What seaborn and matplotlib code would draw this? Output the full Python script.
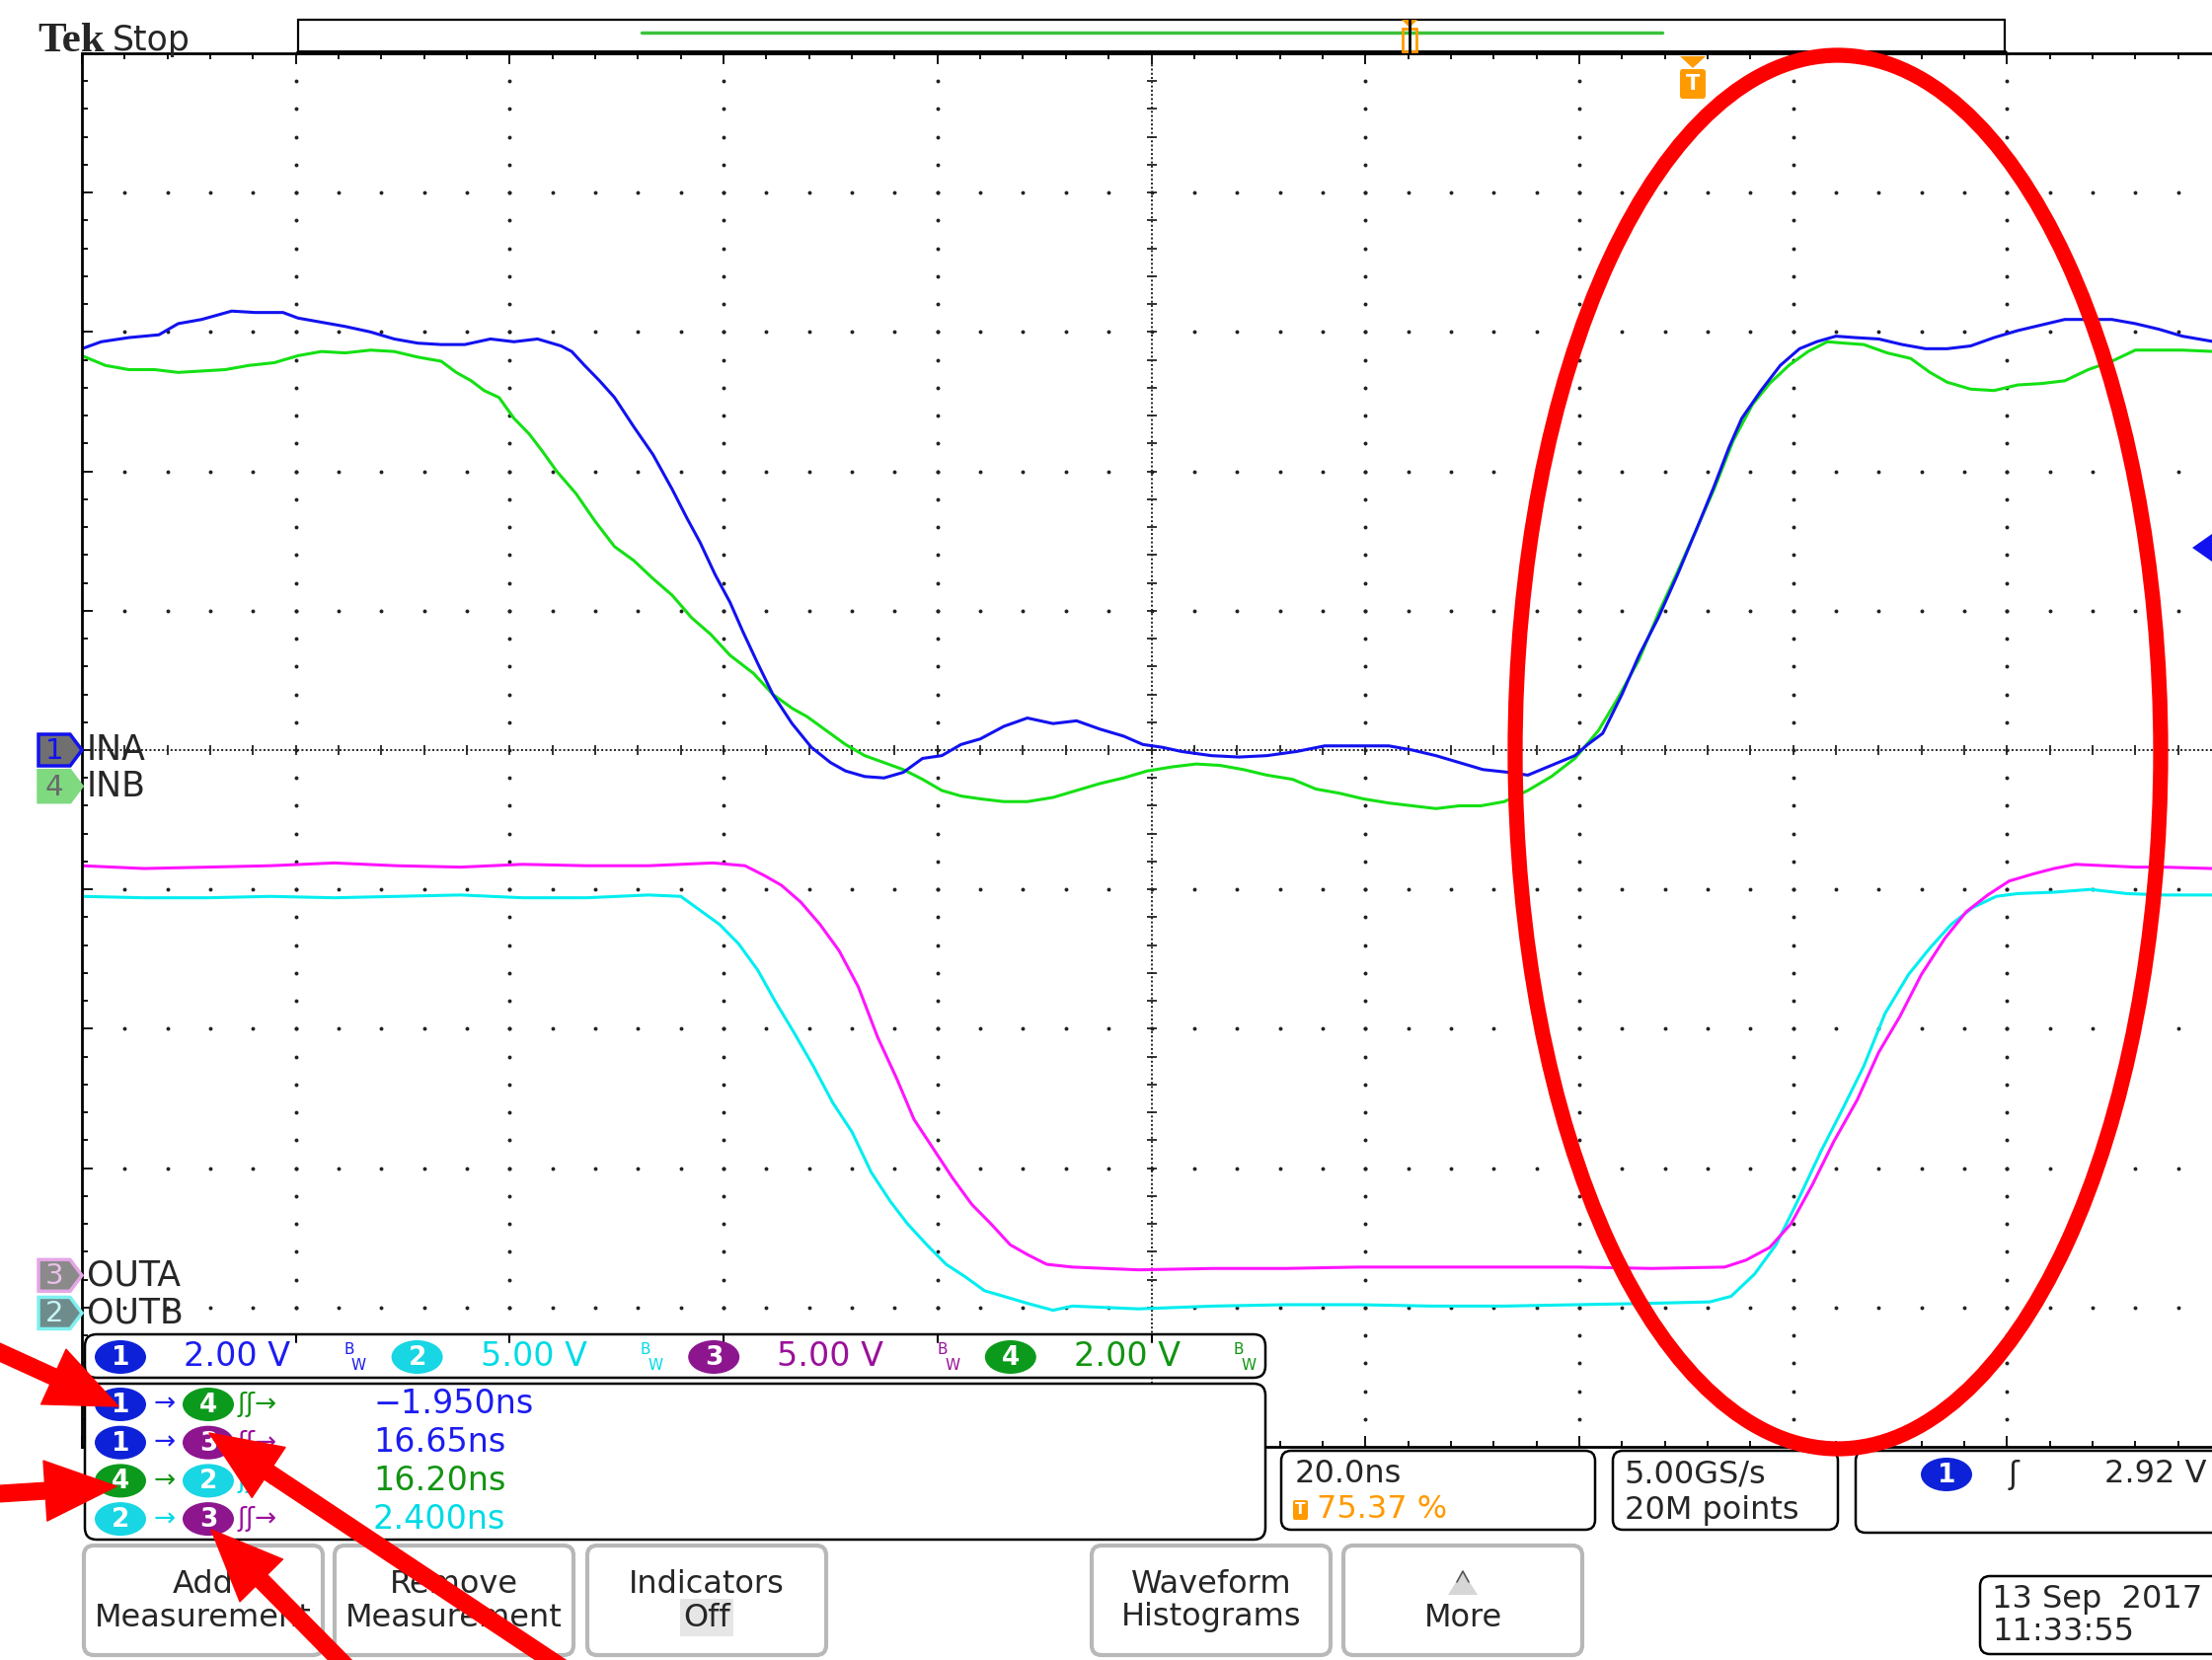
import matplotlib
matplotlib.use("Agg")
import matplotlib.pyplot as plt
import numpy as np
import pandas as pd
import seaborn as sns
from matplotlib.patches import (ArrowStyle, Ellipse, FancyArrowPatch,
                                FancyBboxPatch, Polygon, Rectangle)

W, H = 2241, 1682

# traces: (time in divisions, 20 ns/div ; level in divisions from centre)
ina = [(0.00, 2.88), (0.09, 2.93), (0.22, 2.96), (0.36, 2.98), (0.45, 3.06), (0.56, 3.09),
       (0.70, 3.15), (0.81, 3.14), (0.94, 3.14), (1.01, 3.10), (1.12, 3.07), (1.23, 3.04),
       (1.35, 3.00), (1.46, 2.95), (1.57, 2.92), (1.68, 2.91), (1.79, 2.91), (1.91, 2.95),
       (2.02, 2.93), (2.13, 2.95), (2.24, 2.90), (2.29, 2.86), (2.35, 2.76), (2.42, 2.65),
       (2.49, 2.53), (2.58, 2.32), (2.67, 2.12), (2.76, 1.87), (2.83, 1.66), (2.89, 1.49),
       (2.96, 1.26), (3.03, 1.06), (3.09, 0.85), (3.16, 0.62), (3.23, 0.40), (3.32, 0.19),
       (3.41, 0.02), (3.50, -0.09), (3.57, -0.15), (3.66, -0.19), (3.75, -0.20), (3.84, -0.16),
       (3.93, -0.06), (4.02, -0.04), (4.11, 0.04), (4.20, 0.08), (4.31, 0.17), (4.42, 0.23),
       (4.54, 0.19), (4.65, 0.21), (4.76, 0.15), (4.87, 0.10), (4.96, 0.04), (5.05, 0.02),
       (5.14, -0.01), (5.28, -0.04), (5.41, -0.05), (5.54, -0.04), (5.68, -0.01), (5.81, 0.03),
       (5.95, 0.03), (6.11, 0.03), (6.22, 0.00), (6.33, -0.04), (6.44, -0.09), (6.55, -0.14),
       (6.67, -0.16), (6.76, -0.18), (6.87, -0.11), (6.98, -0.04), (7.04, 0.04), (7.11, 0.12),
       (7.20, 0.40), (7.28, 0.68), (7.37, 0.95), (7.46, 1.26), (7.55, 1.59), (7.63, 1.89),
       (7.70, 2.17), (7.76, 2.38), (7.85, 2.58), (7.94, 2.76), (8.03, 2.88), (8.11, 2.93),
       (8.20, 2.97), (8.29, 2.96), (8.40, 2.95), (8.51, 2.91), (8.62, 2.88), (8.72, 2.88),
       (8.83, 2.90), (8.94, 2.96), (9.05, 3.01), (9.16, 3.05), (9.27, 3.09), (9.38, 3.09),
       (9.49, 3.09), (9.60, 3.06), (9.71, 3.02), (9.82, 2.97), (9.97, 2.93), (10.0, 2.93)]

inb = [(0.00, 2.83), (0.11, 2.76), (0.22, 2.73), (0.34, 2.73), (0.45, 2.71), (0.56, 2.72),
       (0.67, 2.73), (0.78, 2.76), (0.90, 2.78), (1.01, 2.83), (1.12, 2.86), (1.23, 2.85),
       (1.35, 2.87), (1.46, 2.86), (1.57, 2.82), (1.68, 2.79), (1.75, 2.71), (1.82, 2.65),
       (1.88, 2.58), (1.95, 2.53), (2.02, 2.38), (2.09, 2.27), (2.15, 2.15), (2.22, 2.00),
       (2.31, 1.84), (2.40, 1.64), (2.49, 1.46), (2.58, 1.36), (2.67, 1.23), (2.76, 1.11),
       (2.85, 0.95), (2.94, 0.83), (3.03, 0.68), (3.14, 0.55), (3.23, 0.40), (3.32, 0.30),
       (3.39, 0.24), (3.48, 0.14), (3.57, 0.04), (3.66, -0.04), (3.75, -0.09), (3.84, -0.14),
       (3.93, -0.21), (4.02, -0.29), (4.11, -0.33), (4.20, -0.35), (4.31, -0.37), (4.42, -0.37),
       (4.54, -0.34), (4.65, -0.29), (4.76, -0.24), (4.87, -0.20), (4.98, -0.15), (5.10, -0.12),
       (5.21, -0.10), (5.32, -0.11), (5.43, -0.14), (5.54, -0.18), (5.66, -0.21), (5.77, -0.28),
       (5.88, -0.31), (5.99, -0.35), (6.11, -0.38), (6.22, -0.40), (6.33, -0.42), (6.44, -0.40),
       (6.54, -0.40), (6.65, -0.37), (6.76, -0.29), (6.87, -0.19), (6.98, -0.06), (7.09, 0.14),
       (7.18, 0.37), (7.28, 0.65), (7.37, 0.98), (7.46, 1.28), (7.55, 1.59), (7.63, 1.87),
       (7.72, 2.22), (7.81, 2.48), (7.89, 2.63), (7.98, 2.76), (8.07, 2.86), (8.16, 2.93),
       (8.24, 2.92), (8.33, 2.91), (8.44, 2.85), (8.55, 2.81), (8.64, 2.71), (8.72, 2.64),
       (8.83, 2.59), (8.94, 2.58), (9.05, 2.62), (9.16, 2.63), (9.27, 2.65), (9.38, 2.73),
       (9.49, 2.79), (9.60, 2.87), (9.71, 2.87), (9.82, 2.87), (9.97, 2.86), (10.0, 2.86)]

outa = [(0.00, -0.83), (0.29, -0.85), (0.59, -0.84), (0.88, -0.83), (1.18, -0.81), (1.47, -0.83),
        (1.77, -0.84), (2.06, -0.82), (2.36, -0.83), (2.65, -0.83), (2.95, -0.81), (3.10, -0.83),
        (3.19, -0.90), (3.27, -0.97), (3.36, -1.09), (3.45, -1.25), (3.54, -1.44), (3.63, -1.70),
        (3.72, -2.06), (3.81, -2.36), (3.89, -2.65), (3.98, -2.86), (4.07, -3.07), (4.16, -3.26),
        (4.25, -3.40), (4.34, -3.55), (4.42, -3.62), (4.51, -3.69), (4.63, -3.71), (4.94, -3.73),
        (5.29, -3.72), (5.63, -3.72), (5.97, -3.71), (6.31, -3.71), (6.65, -3.71), (6.99, -3.71),
        (7.34, -3.72), (7.68, -3.71), (7.78, -3.66), (7.89, -3.57), (7.99, -3.40), (8.09, -3.12),
        (8.19, -2.81), (8.30, -2.51), (8.40, -2.17), (8.50, -1.91), (8.60, -1.61), (8.71, -1.35),
        (8.81, -1.16), (8.91, -1.04), (9.01, -0.94), (9.12, -0.89), (9.22, -0.85), (9.32, -0.82),
        (9.46, -0.83), (9.60, -0.84), (9.73, -0.84), (9.96, -0.85), (10.0, -0.85)]

outb = [(0.00, -1.05), (0.29, -1.06), (0.59, -1.06), (0.88, -1.05), (1.18, -1.06), (1.47, -1.05),
        (1.77, -1.04), (2.06, -1.06), (2.36, -1.06), (2.65, -1.04), (2.80, -1.05), (2.89, -1.15),
        (2.98, -1.25), (3.07, -1.39), (3.16, -1.58), (3.24, -1.80), (3.33, -2.03), (3.42, -2.27),
        (3.51, -2.53), (3.60, -2.74), (3.69, -3.03), (3.78, -3.24), (3.86, -3.40), (3.95, -3.55),
        (4.04, -3.69), (4.13, -3.78), (4.22, -3.88), (4.31, -3.92), (4.42, -3.97), (4.54, -4.02),
        (4.63, -3.99), (4.94, -4.01), (5.29, -3.99), (5.63, -3.98), (5.97, -3.98), (6.31, -3.99),
        (6.65, -3.99), (6.99, -3.98), (7.34, -3.97), (7.61, -3.96), (7.71, -3.92), (7.82, -3.76),
        (7.92, -3.55), (8.02, -3.24), (8.13, -2.88), (8.23, -2.58), (8.33, -2.27), (8.43, -1.89),
        (8.54, -1.61), (8.64, -1.42), (8.74, -1.25), (8.84, -1.13), (8.95, -1.05), (9.05, -1.03),
        (9.22, -1.02), (9.39, -1.00), (9.56, -1.03), (9.73, -1.04), (9.96, -1.04), (10.0, -1.04)]

# channel ground markers (divisions) and labels
ch_names = ["INA", "INB", "OUTA", "OUTB"]
ch_numbers = ["1", "4", "3", "2"]
ch_offsets = [0.0, -0.26, -3.77, -4.04]

# vertical scales
scale_channels = ["1", "2", "3", "4"]
scale_text = ["2.00 V", "5.00 V", "5.00 V", "2.00 V"]

# delay measurements
meas_from = ["1", "1", "4", "2"]
meas_to = ["4", "3", "2", "3"]
meas_value = ["\u22121.950ns", "16.65ns", "16.20ns", "2.400ns"]

buttons = [("Add", "Measurement"), ("Remove", "Measurement"), ("Indicators", "Off"),
           ("Waveform", "Histograms"), ("", "More")]

trace_colors = {"INA": "#1212f0", "INB": "#14e014", "OUTA": "#ff14ff", "OUTB": "#00eef0"}
text_colors = {"1": "#1c1cf0", "2": "#00dbe6", "3": "#9a119a", "4": "#119411"}
pill_colors = {"1": "#0d22d8", "2": "#18d6e4", "3": "#8d168f", "4": "#0c9a1c"}
ORANGE = "#ff9a00"
FS = 23

sns.set_theme(style="white", context="notebook")
plt.rcParams["font.family"] = ["DejaVu Sans"]

fig = plt.figure(figsize=(W / 100, H / 100), dpi=100, facecolor="white")

# graticule area in pixels
gx0, gx1, gy0, gy1 = 83, 2250, 54, 1466
ax = fig.add_axes([gx0 / W, 1 - gy1 / H, (gx1 - gx0) / W, (gy1 - gy0) / H])
ax.set_xlim(0, 10)
ax.set_ylim(-5, 5)
ax.set_xticks(np.arange(0, 11, 1))
ax.set_xticks(np.arange(0, 10.01, 0.2), minor=True)
ax.set_yticks(np.arange(-5, 6, 1))
ax.set_yticks(np.arange(-5, 5.01, 0.2), minor=True)
ax.tick_params(which="both", direction="in", top=True, bottom=True, left=True, right=False,
               labelbottom=False, labelleft=False, color="black", width=1.3)
ax.tick_params(which="major", length=8)
ax.tick_params(which="minor", length=4)
for sp in ax.spines.values():
    sp.set_color("black")
    sp.set_linewidth(2)

steps = np.arange(0, 10.01, 0.2)
for i in range(1, 10):
    if i == 5:
        continue
    ax.plot(np.full_like(steps, i), steps - 5, ls="none", marker="o", ms=1.8, color="#222222")
    ax.plot(steps, np.full_like(steps, i - 5), ls="none", marker="o", ms=1.8, color="#222222")
ax.axhline(0, color="#222222", lw=1.4, ls=(0, (1, 1.2)))
ax.axvline(5, color="#222222", lw=1.4, ls=(0, (1, 1.2)))
ax.plot(steps, np.zeros_like(steps), ls="none", marker="|", ms=7, mew=1.3, color="#222222")
ax.plot(np.full_like(steps, 5), steps - 5, ls="none", marker="_", ms=7, mew=1.3, color="#222222")

frames = []
for name, pts in [("OUTB", outb), ("OUTA", outa), ("INB", inb), ("INA", ina)]:
    d = pd.DataFrame(pts, columns=["t", "level"])
    d["channel"] = name
    frames.append(d)
traces = pd.concat(frames, ignore_index=True)
sns.lineplot(data=traces, x="t", y="level", hue="channel",
             hue_order=["OUTB", "OUTA", "INB", "INA"], palette=trace_colors,
             estimator=None, sort=False, legend=False, lw=2.2, ax=ax)
ax.set_xlabel("")
ax.set_ylabel("")

# screen furniture drawn in pixel coordinates
ui = fig.add_axes([0, 0, 1, 1])
ui.set_xlim(0, W)
ui.set_ylim(H, 0)
ui.set_axis_off()


def px_y(level):
    return gy0 + (5 - level) * (gy1 - gy0) / 10


def rbox(x0, y0, x1, y1, ec="black", lw=1.8, fc="white", r=12, z=5):
    ui.add_patch(FancyBboxPatch((x0 + r, y0 + r), x1 - x0 - 2 * r, y1 - y0 - 2 * r,
                                boxstyle=f"round,pad={r}", fc=fc, ec=ec, lw=lw, zorder=z))


def pill(x, y, num, z=7):
    ui.add_patch(Ellipse((x, y), 52, 34, fc=pill_colors[num], ec="none", zorder=z))
    ui.text(x, y + 1, num, color="white", ha="center", va="center", fontsize=19,
            weight="bold", zorder=z + 1)


ui.text(38, 52, "Tek", family=["Liberation Serif", "DejaVu Serif"], weight="bold",
        fontsize=31, va="baseline")
ui.text(114, 51, "Stop", fontsize=25, va="baseline")

# record bar
ui.add_patch(Rectangle((302, 20), 1729, 33, fc="white", ec="black", lw=1.6, zorder=4))
ui.plot([302, 2031], [53, 53], color="black", lw=3.5, zorder=5)
ui.plot([650, 1684], [33, 33], color="#3ac23a", lw=2.5, zorder=5)
ui.add_patch(Rectangle((1421, 29), 14, 23, fc="none", ec=ORANGE, lw=2, zorder=6))
ui.add_patch(Polygon([(1420, 20), (1436, 20), (1428, 28)], fc=ORANGE, ec="none", zorder=6))
ui.plot([1428, 1428], [20, 53], color="black", lw=2, zorder=7)

# trigger position and level markers
ui.add_patch(Polygon([(1702, 57), (1728, 57), (1715, 69)], fc=ORANGE, ec="none", zorder=6))
ui.add_patch(FancyBboxPatch((1705, 73), 20, 24, boxstyle="round,pad=3", fc=ORANGE, ec="none",
                            zorder=6))
ui.text(1715, 85, "T", color="white", weight="bold", fontsize=15, ha="center", va="center",
        zorder=7)
ui.add_patch(Polygon([(2221, 555), (2241, 541), (2241, 569)], fc="#1212f0", ec="none", zorder=6))

# channel ground markers
badge_style = {"1": ("#707070", "#1212f0", "#1212f0"), "4": ("#7fd97f", "#7fd97f", "#6a6a6a"),
               "3": ("#8a8a8a", "#e6a6e6", "#e8c0e8"), "2": ("#6f8c8c", "#7ff0f0", "#c8f4f4")}
for name, num, off in zip(ch_names, ch_numbers, ch_offsets):
    y = px_y(off)
    fc, ec, tc = badge_style[num]
    ui.add_patch(Polygon([(39, y - 16), (71, y - 16), (83, y), (71, y + 16), (39, y + 16)],
                         fc=fc, ec=ec, lw=2.5, zorder=6))
    ui.text(55, y + 1, num, color=tc, fontsize=21, ha="center", va="center", zorder=7)
    ui.text(88, y, name, fontsize=25, va="center", zorder=7)

# vertical scale bar
rbox(86, 1352, 1282, 1396)
for i in range(1, 6):
    xt = gx0 + i * (gx1 - gx0) / 10
    ui.plot([xt, xt], [1352, 1360], color="black", lw=1.5, zorder=6)
for i, (num, txt) in enumerate(zip(scale_channels, scale_text)):
    x = 122 + i * 300.6
    c = text_colors[num]
    pill(x, 1375, num)
    ui.text(x + 64, 1375, txt, color=c, fontsize=FS + 1, va="center", zorder=7)
    ui.text(x + 226, 1367, "B", color=c, fontsize=11, va="center", zorder=7)
    ui.text(x + 234, 1383, "W", color=c, fontsize=11, va="center", zorder=7)

# measurement readouts
rbox(86, 1402, 1282, 1560)
for k, (a, b, val) in enumerate(zip(meas_from, meas_to, meas_value)):
    y = 1423 + k * 38.7
    pill(122, y, a)
    ui.text(167, y, "\u2192", color=text_colors[a], fontsize=19, ha="center", va="center", zorder=7)
    pill(211, y, b)
    ui.text(240, y, "\u0283\u0283\u2192", color=text_colors[b], fontsize=19, va="center", zorder=7)
    ui.text(378, y, val, color=text_colors[a], fontsize=FS + 1, va="center", zorder=7)

# acquisition boxes
rbox(1298, 1470, 1616, 1550, r=10)
ui.text(1312, 1494, "20.0ns", fontsize=FS, va="center", zorder=7)
ui.add_patch(FancyBboxPatch((1312, 1522), 11, 16, boxstyle="round,pad=2", fc=ORANGE, ec="none",
                            zorder=7))
ui.text(1317, 1530, "T", color="white", weight="bold", fontsize=11, ha="center", va="center",
        zorder=8)
ui.text(1334, 1530, "75.37 %", color=ORANGE, fontsize=FS, va="center", zorder=7)

rbox(1634, 1470, 1862, 1550, r=10)
ui.text(1646, 1494, "5.00GS/s", fontsize=FS, va="center", zorder=7)
ui.text(1646, 1530, "20M points", fontsize=FS, va="center", zorder=7)

rbox(1880, 1470, 2262, 1553, r=10)
pill(1972, 1494, "1")
ui.text(2040, 1494, "\u0283", fontsize=FS, ha="center", va="center", zorder=7)
ui.text(2236, 1494, "2.92 V", fontsize=FS, ha="right", va="center", zorder=7)

rbox(2006, 1597, 2262, 1676, r=10)
ui.text(2018, 1621, "13 Sep  2017", fontsize=FS, va="center", zorder=7)
ui.text(2018, 1654, "11:33:55", fontsize=FS, va="center", zorder=7)

# soft buttons
for x0, (l1, l2) in zip([85, 339, 595, 1106, 1361], buttons):
    rbox(x0, 1566, x0 + 242, 1677, ec="#b8b8b8", lw=3, r=10)
    cx = x0 + 121
    if l1:
        ui.text(cx, 1605, l1, fontsize=FS, ha="center", va="center", zorder=7)
    else:
        ui.add_patch(Polygon([(cx, 1592), (cx - 15, 1616), (cx + 15, 1616)], fc="#d6d6d6",
                             ec="none", zorder=7))
        ui.plot([cx - 6, cx, cx + 6], [1603, 1592, 1603], color="#555555", lw=1.2, zorder=8)
    bb = dict(boxstyle="square,pad=0.1", fc="#e6e6e6", ec="none") if l2 == "Off" else None
    ui.text(cx, 1639, l2, fontsize=FS, ha="center", va="center", zorder=7, bbox=bb)

# red annotations
ui.add_patch(Ellipse((1862, 762), 654, 1412, fill=False, ec="red", lw=11, zorder=20))
arrow = ArrowStyle("Simple", head_length=52, head_width=44, tail_width=12)
for tail, tip in [((-40, 1352), (120, 1425)), ((-40, 1516), (118, 1506)),
                  ((372, 1710), (214, 1550)), ((600, 1710), (212, 1452))]:
    ui.add_patch(FancyArrowPatch(tail, tip, arrowstyle=arrow, mutation_scale=1, color="red",
                                 shrinkA=0, shrinkB=0, zorder=21, clip_on=False))

fig.savefig("out.png", dpi=100, facecolor="white")
